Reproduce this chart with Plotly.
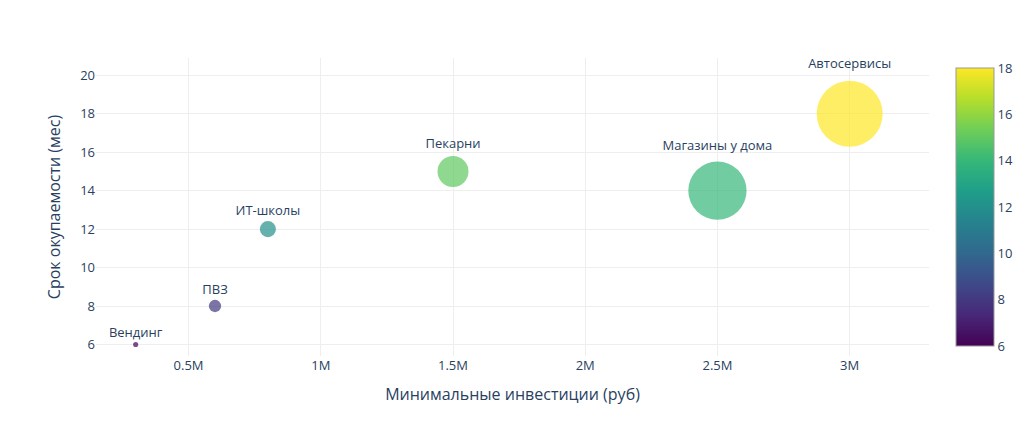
import plotly.graph_objects as go

names = ["Вендинг", "ПВЗ", "ИТ-школы", "Пекарни", "Магазины у дома", "Автосервисы"]
investment = [300000, 600000, 800000, 1500000, 2500000, 3000000]
payback = [6, 8, 12, 15, 14, 18]
bubble_value = [0.6, 3.5, 6, 22, 78, 100]
x_tickvals = [500000, 1000000, 1500000, 2000000, 2500000, 3000000]
x_ticktext = ["0.5M", "1M", "1.5M", "2M", "2.5M", "3M"]

fig = go.Figure(go.Scatter(
    x=investment, y=payback, mode="markers+text", text=names,
    textposition="top center", textfont=dict(size=13, color="#2a3f5f"),
    marker=dict(size=bubble_value, sizemode="area", sizeref=2*max(bubble_value)/(66**2),
                color=payback, colorscale="Viridis", cmin=6, cmax=18, opacity=0.7,
                line=dict(width=0),
                colorbar=dict(thickness=38, len=1.0, y=0.5, tickvals=[6,8,10,12,14,16,18], outlinewidth=1, outlinecolor="#999")),
    hovertemplate="%{text}<extra></extra>", showlegend=False))

fig.update_layout(
    template="plotly_white", width=1024, height=430,
    margin=dict(l=88, r=100, t=50, b=82),
    font=dict(family="Open Sans, sans-serif", size=13, color="#2a3f5f"),
    xaxis=dict(title="Минимальные инвестиции (руб)", tickvals=x_tickvals, ticktext=x_ticktext,
               range=[150000, 3300000], zeroline=False, gridcolor="#eeeeee"),
    yaxis=dict(title="Срок окупаемости (мес)", range=[5.4, 20.9], dtick=2, zeroline=False, gridcolor="#eeeeee"),
)
fig.write_html("out.html")
